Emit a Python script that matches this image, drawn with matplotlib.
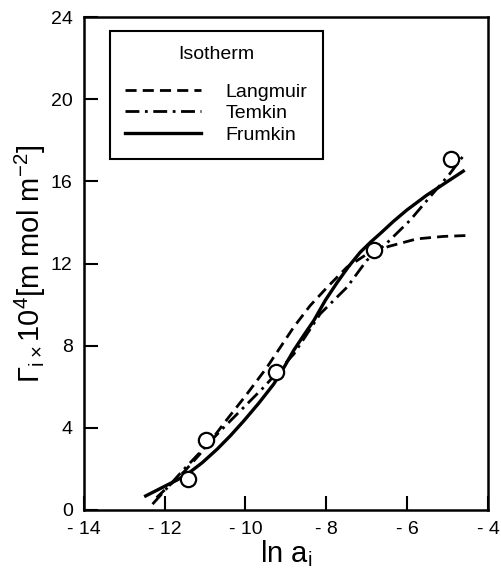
import matplotlib
matplotlib.use('Agg')
import matplotlib.pyplot as plt

plt.rcParams['font.family'] = ['Liberation Sans', 'DejaVu Sans']
plt.rcParams['mathtext.fontset'] = 'custom'
plt.rcParams['mathtext.rm'] = 'Liberation Sans'
plt.rcParams['mathtext.it'] = 'Liberation Sans'

# measured points
pts_x = [-11.42, -10.98, -9.24, -6.81, -4.92]
pts_y = [1.50, 3.40, 6.72, 12.65, 17.10]

# Langmuir fit
lang_x = [-12.20, -11.50, -11.00, -10.50, -10.00, -9.47, -8.81, -8.40, -7.98, -7.49, -7.00, -6.46, -5.76, -5.10, -4.44]
lang_y = [0.60, 1.90, 3.00, 4.30, 5.55, 6.94, 8.89, 9.95, 10.84, 11.82, 12.45, 12.83, 13.20, 13.32, 13.37]

# Temkin fit
temk_x = [-12.30, -11.56, -10.62, -9.55, -8.80, -8.15, -7.49, -7.00, -6.50, -5.93, -5.51, -4.94, -4.57]
temk_y = [0.28, 1.90, 3.85, 5.97, 7.60, 9.55, 10.84, 12.15, 13.00, 14.10, 15.07, 16.38, 17.35]

# Frumkin fit
frum_x = [-12.47, -12.20, -11.93, -11.70, -11.44, -11.07, -10.70, -10.37, -10.04, -9.67, -9.30, -9.05,
          -8.81, -8.56, -8.31, -8.02, -7.74, -7.45, -7.16, -6.90, -6.67, -6.34, -6.01, -5.52, -5.05, -4.61]
frum_y = [0.68, 0.95, 1.22, 1.45, 1.74, 2.30, 2.96, 3.62, 4.34, 5.20, 6.13, 6.93,
          7.76, 8.50, 9.22, 10.22, 11.05, 11.85, 12.55, 13.05, 13.45, 14.05, 14.60, 15.32, 15.93, 16.50]

xticks = [-14, -12, -10, -8, -6, -4]
xlabels = ['- 14', '- 12', '- 10', '- 8', '- 6', '- 4']
yticks = [0, 4, 8, 12, 16, 20, 24]

fig = plt.figure(figsize=(5.02, 5.71), dpi=100)
ax = fig.add_axes([0.167, 0.107, 0.805, 0.863])

ax.plot(lang_x, lang_y, color='black', lw=2, linestyle=(0, (4, 2.2)), label='Langmuir')
ax.plot(temk_x, temk_y, color='black', lw=2, linestyle=(0, (5, 2, 1, 2)), label='Temkin')
ax.plot(frum_x, frum_y, color='black', lw=2.4, linestyle='-', label='Frumkin')
ax.plot(pts_x, pts_y, 'o', ms=11, mfc='white', mec='black', mew=1.6)

ax.set_xlim(-14, -4)
ax.set_ylim(0, 24)
ax.set_xticks(xticks)
ax.set_xticklabels(xlabels)
ax.set_yticks(yticks)
ax.tick_params(direction='in', length=10, width=1.5, labelsize=14, pad=8)
for s in ax.spines.values():
    s.set_linewidth(1.8)

ax.set_xlabel(r'ln $\mathregular{a_i}$', fontsize=21, labelpad=0)
ax.set_ylabel(r'$\mathregular{\Gamma_i}$$\mathregular{_\times}$$\mathregular{10^4}$[m mol m$\mathregular{^{-2}}$]',
              fontsize=21, labelpad=2)

leg = ax.legend(title='Isotherm', loc='upper left', bbox_to_anchor=(0.064, 0.972),
                fontsize=14, title_fontsize=14, handlelength=3.9, handletextpad=1.25,
                fancybox=False, edgecolor='black', framealpha=1, borderpad=0.8,
                labelspacing=0.2, borderaxespad=0)
leg.get_frame().set_linewidth(1.5)
leg._legend_box.align = 'center'
leg._legend_box.sep = 14

fig.savefig('out.png', dpi=100)
